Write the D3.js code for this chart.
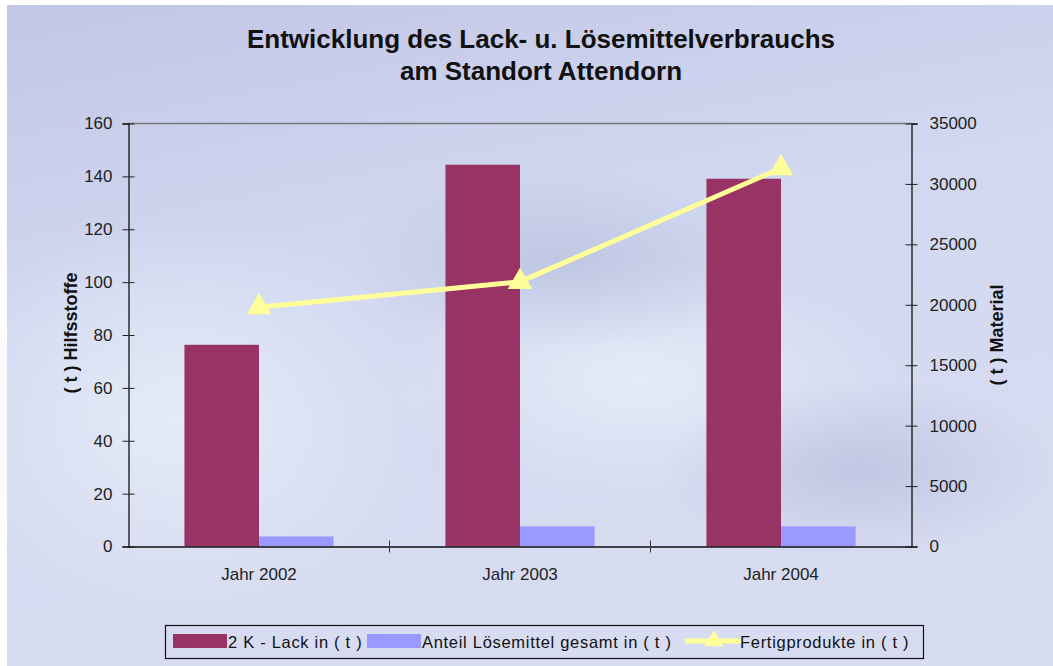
<!DOCTYPE html>
<html>
<head>
<meta charset="utf-8">
<script src="https://cdnjs.cloudflare.com/ajax/libs/d3/7.8.5/d3.min.js"></script>
<style>
  body { margin: 0; background: #fff; }
  svg text { font-family: "Liberation Sans", Arial, sans-serif; }
</style>
</head>
<body>
<div id="chart"></div>
<script>
var w = 1053,
    h = 666;

// data
var categories = ["Jahr 2002", "Jahr 2003", "Jahr 2004"];
var lack = [76.3, 144.4, 139.1];          // 2 K - Lack in ( t )
var loesemittel = [3.8, 7.6, 7.6];        // Anteil Lösemittel gesamt in ( t )
var fertig = [19800, 21900, 31300];       // Fertigprodukte in ( t )
var leftTicks = [0, 20, 40, 60, 80, 100, 120, 140, 160];
var rightTicks = [0, 5000, 10000, 15000, 20000, 25000, 30000, 35000];

var margin = { left: 128.5, right: 911.5, top: 123.5, bottom: 546.5 };

var svg = d3.select("#chart")
    .append("svg")
    .attr("width", w)
    .attr("height", h);

//background
var defs = svg.append("defs");
var lg = defs.append("linearGradient").attr("id", "bg")
    .attr("x1", 0).attr("y1", 0).attr("x2", 0.3).attr("y2", 1);
lg.append("stop").attr("offset", "0%").attr("stop-color", "#c3c6e6");
lg.append("stop").attr("offset", "45%").attr("stop-color", "#d1d8f0");
lg.append("stop").attr("offset", "100%").attr("stop-color", "#d8dcf1");

var rg = defs.append("radialGradient").attr("id", "glow");
rg.append("stop").attr("offset", "0%").attr("stop-color", "#e6edf8").attr("stop-opacity", 0.9);
rg.append("stop").attr("offset", "100%").attr("stop-color", "#e6edf8").attr("stop-opacity", 0);

var rd = defs.append("radialGradient").attr("id", "shade");
rd.append("stop").attr("offset", "0%").attr("stop-color", "#b8bfdd").attr("stop-opacity", 0.7);
rd.append("stop").attr("offset", "100%").attr("stop-color", "#b8bfdd").attr("stop-opacity", 0);

svg.append("rect")
    .attr("x", 7).attr("y", 5)
    .attr("width", w - 7).attr("height", h - 5)
    .style("fill", "url(#bg)");

// faint light and shadow areas (the blurred car behind the chart)
svg.append("ellipse").attr("cx", 180).attr("cy", 420).attr("rx", 260).attr("ry", 200).style("fill", "url(#glow)");
svg.append("ellipse").attr("cx", 640).attr("cy", 380).attr("rx", 260).attr("ry", 120).style("fill", "url(#glow)");
svg.append("ellipse").attr("cx", 560).attr("cy", 260).attr("rx", 220).attr("ry", 90).style("fill", "url(#shade)");
svg.append("ellipse").attr("cx", 860).attr("cy", 470).attr("rx", 200).attr("ry", 90).style("fill", "url(#shade)");

//title
svg.append("text")
    .attr("x", 541).attr("y", 48)
    .attr("text-anchor", "middle")
    .style("font-size", "26px").style("font-weight", "bold").style("fill", "#111")
    .text("Entwicklung des Lack- u. Lösemittelverbrauchs");
svg.append("text")
    .attr("x", 541).attr("y", 80)
    .attr("text-anchor", "middle")
    .style("font-size", "26px").style("font-weight", "bold").style("fill", "#111")
    .text("am Standort Attendorn");

//scales
var x = d3.scaleBand()
    .domain(categories)
    .range([margin.left, margin.right]);

var inner = d3.scaleBand()
    .domain(["lack", "loes"])
    .range([0, x.bandwidth()])
    .paddingInner(0)
    .paddingOuter(0.75);

var yL = d3.scaleLinear().domain([0, 160]).range([margin.bottom, margin.top]);
var yR = d3.scaleLinear().domain([0, 35000]).range([margin.bottom, margin.top]);

// top border of plot area
svg.append("line")
    .attr("x1", margin.left).attr("x2", margin.right)
    .attr("y1", margin.top).attr("y2", margin.top)
    .style("stroke", "#777").style("stroke-width", 1.3);

//bars
svg.selectAll("rect.lack")
    .data(lack)
    .enter()
    .append("rect")
    .attr("class", "lack")
    .attr("x", function(d, i) { return x(categories[i]) + inner("lack"); })
    .attr("y", function(d) { return yL(d); })
    .attr("width", inner.bandwidth())
    .attr("height", function(d) { return yL(0) - yL(d); })
    .style("fill", "#993366");

svg.selectAll("rect.loes")
    .data(loesemittel)
    .enter()
    .append("rect")
    .attr("class", "loes")
    .attr("x", function(d, i) { return x(categories[i]) + inner("loes"); })
    .attr("y", function(d) { return yL(d); })
    .attr("width", inner.bandwidth())
    .attr("height", function(d) { return yL(0) - yL(d); })
    .style("fill", "#9999ff");

//axes
var axisL = d3.axisLeft(yL).tickValues(leftTicks).tickSize(6).tickPadding(10);
var gL = svg.append("g")
    .attr("transform", "translate(" + margin.left + ",0)")
    .call(axisL);

var axisR = d3.axisRight(yR).tickValues(rightTicks).tickFormat(d3.format("d"))
    .tickSize(6).tickPadding(12);
var gR = svg.append("g")
    .attr("transform", "translate(" + margin.right + ",0)")
    .call(axisR);

var axisX = d3.axisBottom(x).tickSize(0).tickPadding(21);
var gX = svg.append("g")
    .attr("transform", "translate(0," + margin.bottom + ")")
    .call(axisX);

[gL, gR, gX].forEach(function(g) {
    g.select(".domain").style("stroke", "#111").style("stroke-width", 1.3);
    g.selectAll("text")
        .style("font-size", "17px")
        .style("font-family", "'Liberation Sans', Arial, sans-serif")
        .style("fill", "#222");
    g.selectAll(".tick line").style("stroke", "#222");
});

// ticks crossing both sides of the axis
gL.selectAll(".tick line").attr("x1", 6).attr("x2", -6);
gR.selectAll(".tick line").attr("x1", -6).attr("x2", 6);

// category separators on x-axis
svg.selectAll("line.sep")
    .data(categories.slice(1))
    .enter()
    .append("line")
    .attr("class", "sep")
    .attr("x1", function(d) { return x(d); })
    .attr("x2", function(d) { return x(d); })
    .attr("y1", margin.bottom - 6)
    .attr("y2", margin.bottom + 6)
    .style("stroke", "#333").style("stroke-width", 1);

//axis titles
svg.append("text")
    .attr("transform", "translate(77,333) rotate(-90)")
    .attr("text-anchor", "middle")
    .style("font-size", "18px").style("font-weight", "bold").style("fill", "#111")
    .text("( t ) Hilfsstoffe");

svg.append("text")
    .attr("transform", "translate(1003,335) rotate(-90)")
    .attr("text-anchor", "middle")
    .style("font-size", "18px").style("font-weight", "bold").style("fill", "#111")
    .text("( t ) Material");

//line
var line = d3.line()
    .x(function(d, i) { return x(categories[i]) + x.bandwidth() / 2; })
    .y(function(d) { return yR(d); });

svg.append("path")
    .datum(fertig)
    .attr("d", line)
    .style("fill", "none")
    .style("stroke", "#ffff99")
    .style("stroke-width", 5);

var tri = d3.symbol().type(d3.symbolTriangle).size(260);

svg.selectAll("path.marker")
    .data(fertig)
    .enter()
    .append("path")
    .attr("class", "marker")
    .attr("d", tri)
    .attr("transform", function(d, i) {
        return "translate(" + (x(categories[i]) + x.bandwidth() / 2) + "," + yR(d) + ")";
    })
    .style("fill", "#ffff99");

//legend
var lgd = svg.append("g");
lgd.append("rect")
    .attr("x", 165.5).attr("y", 625.5)
    .attr("width", 758).attr("height", 33)
    .style("fill", "none")
    .style("stroke", "#111").style("stroke-width", 1.2);

var legendItems = [
    { label: "2 K - Lack in ( t )", color: "#993366", type: "bar", x: 173 },
    { label: "Anteil Lösemittel gesamt in ( t )", color: "#9999ff", type: "bar", x: 367 },
    { label: "Fertigprodukte in ( t )", color: "#ffff99", type: "line", x: 685 }
];

legendItems.forEach(function(d) {
    if (d.type == "bar") {
        lgd.append("rect")
            .attr("x", d.x).attr("y", 634)
            .attr("width", 54).attr("height", 14)
            .style("fill", d.color);
    } else {
        lgd.append("line")
            .attr("x1", d.x).attr("x2", d.x + 56)
            .attr("y1", 641).attr("y2", 641)
            .style("stroke", d.color).style("stroke-width", 5);
        lgd.append("path")
            .attr("d", d3.symbol().type(d3.symbolTriangle).size(150))
            .attr("transform", "translate(" + (d.x + 29) + ",641)")
            .style("fill", d.color);
    }
    lgd.append("text")
        .attr("x", d.x + 55).attr("y", 648)
        .style("font-size", "16.5px").style("fill", "#111")
        .style("letter-spacing", "0.7px")
        .text(d.label);
});
</script>
</body>
</html>
